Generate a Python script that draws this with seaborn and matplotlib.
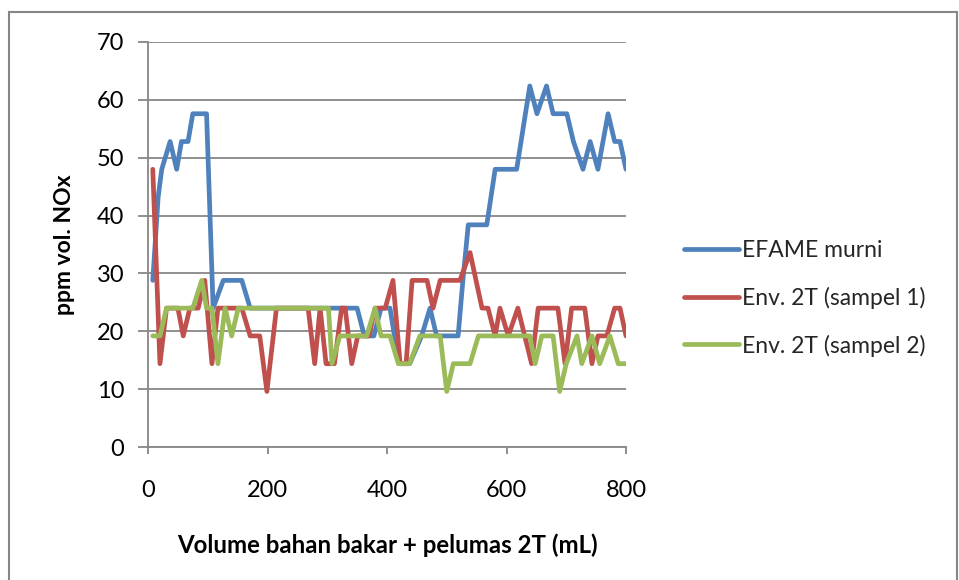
import matplotlib
matplotlib.use("Agg")
import matplotlib.pyplot as plt
import seaborn as sns
import pandas as pd
from matplotlib.patches import Rectangle

# ---- data ----
efame_x = [8, 17, 23, 37, 48, 56, 67, 75, 98, 109, 126, 157, 171, 350, 362, 378, 390, 405,
           420, 438, 458, 472, 483, 519, 527, 536, 567, 581, 617, 639, 651, 667, 678, 701,
           712, 728, 740, 753, 770, 781, 790, 800]
efame_y = [28.8, 43.2, 48, 52.8, 48, 52.8, 52.8, 57.6, 57.6, 24, 28.8, 28.8, 24, 24, 19.2, 19.2, 24, 24,
           14.4, 14.4, 19.2, 24, 19.2, 19.2, 28.8, 38.4, 38.4, 48, 48, 62.4, 57.6, 62.4, 57.6, 57.6,
           52.8, 48, 52.8, 48, 57.6, 52.8, 52.8, 48]

s1_x = [8, 20, 31, 50, 59, 70, 84, 95, 107, 117, 157, 171, 187, 199, 215, 268, 279, 288, 298,
        312, 324, 330, 341, 351, 370, 380, 397, 410, 422, 432, 442, 467, 477, 489, 522, 539,
        559, 569, 581, 589, 603, 619, 642, 653, 686, 698, 709, 731, 743, 753, 768, 781, 790, 800]
s1_y = [48, 14.4, 24, 24, 19.2, 24, 24, 28.8, 14.4, 24, 24, 19.2, 19.2, 9.6, 24, 24, 14.4, 24, 14.4,
        14.4, 24, 24, 14.4, 19.2, 19.2, 24, 24, 28.8, 14.4, 14.4, 28.8, 28.8, 24, 28.8, 28.8, 33.6,
        24, 24, 19.2, 24, 19.2, 24, 14.4, 24, 24, 14.4, 24, 24, 14.4, 19.2, 19.2, 24, 24, 19.2]

s2_x = [8, 20, 31, 75, 90, 98, 107, 117, 129, 140, 151, 302, 308, 321, 366, 380, 390, 405, 419,
        438, 455, 489, 500, 511, 539, 553, 639, 648, 659, 678, 689, 700, 718, 726, 743, 756,
        773, 787, 800]
s2_y = [19.2, 19.2, 24, 24, 28.8, 24, 24, 14.4, 24, 19.2, 24, 24, 14.4, 19.2, 19.2, 24, 19.2, 19.2, 14.4,
        14.4, 19.2, 19.2, 9.6, 14.4, 14.4, 19.2, 19.2, 14.4, 19.2, 19.2, 9.6, 14.4, 19.2, 14.4, 19.2, 14.4,
        19.2, 14.4, 14.4]

series_names = ["EFAME murni", "Env. 2T (sampel 1)", "Env. 2T (sampel 2)"]
colors = ["#4F81BD", "#C0504D", "#9BBB59"]
x_ticks = [0, 200, 400, 600, 800]
y_ticks = [0, 10, 20, 30, 40, 50, 60, 70]

frames = []
for name, xs, ys in zip(series_names, [efame_x, s1_x, s2_x], [efame_y, s1_y, s2_y]):
    frames.append(pd.DataFrame({"x": xs, "y": ys, "series": name}))
df = pd.concat(frames, ignore_index=True)

sns.set_theme(style="white")
plt.rcParams["font.family"] = ["Lato", "DejaVu Sans"]

W, H = 959, 580
fig = plt.figure(figsize=(W / 100, H / 100), dpi=100)
ax = fig.add_axes([148 / W, 1 - 447 / H, (626 - 148) / W, (447 - 42) / H])

LW = 3.4
sns.lineplot(data=df, x="x", y="y", hue="series", hue_order=series_names,
             palette=colors, sort=False, estimator=None, linewidth=LW, ax=ax,
             legend=False)
for ln in ax.lines:
    ln.set_solid_joinstyle("round")
    ln.set_solid_capstyle("round")

ax.set_xlim(0, 800)
ax.set_ylim(0, 70)
ax.set_xticks(x_ticks)
ax.set_yticks(y_ticks)
ax.set_xticklabels([str(v) for v in x_ticks])
ax.set_yticklabels([str(v) for v in y_ticks])

grid_c = "#878787"
ax.yaxis.grid(True, color=grid_c, linewidth=1.3)
ax.xaxis.grid(False)
ax.set_axisbelow(True)
for side in ["top", "right"]:
    ax.spines[side].set_visible(False)
for side in ["left", "bottom"]:
    ax.spines[side].set_color(grid_c)
    ax.spines[side].set_linewidth(1.3)

ax.tick_params(axis="y", which="major", left=True, length=7, width=1.3, color=grid_c,
               labelsize=17, pad=10, labelcolor="#000000")
ax.tick_params(axis="x", which="major", bottom=True, length=5, width=1.3, color=grid_c,
               labelsize=17, pad=19, labelcolor="#000000")

ax.set_xlabel("Volume bahan bakar + pelumas 2T (mL)", fontsize=17.3, fontweight="bold",
              labelpad=23, color="#000000")
ax.set_ylabel("ppm vol. NOx", fontsize=16.5, fontweight="bold", labelpad=16, color="#000000")

# legend
handles = [plt.Line2D([], [], color=c, linewidth=LW) for c in colors]
fig.legend(handles, series_names, loc="upper left",
           bbox_to_anchor=(684 / W, 1 - 240 / H), frameon=False, fontsize=16.5,
           handlelength=2.4, handletextpad=0.15, labelspacing=1.12,
           borderaxespad=0, borderpad=0)

# outer chart frame
fig.patches.append(Rectangle((9 / W, -0.05), (957 - 9) / W, 1 - 12 / H + 0.05,
                             transform=fig.transFigure, fill=False,
                             edgecolor="#868686", linewidth=1.5))

fig.savefig("out.png", dpi=100)
